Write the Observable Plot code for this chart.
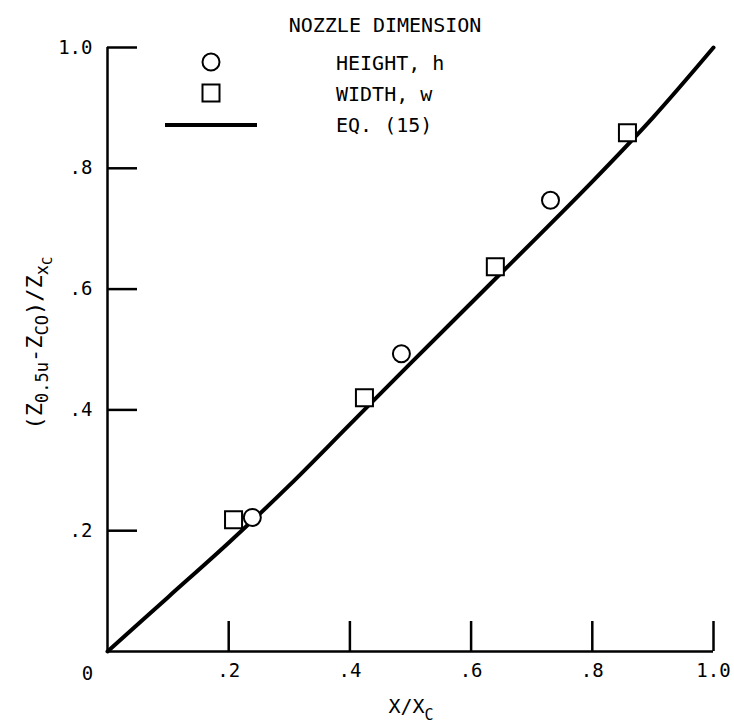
<!DOCTYPE html>
<html>
<head>
<meta charset="utf-8">
<script src="https://cdn.jsdelivr.net/npm/d3@7"></script>
<script src="https://cdn.jsdelivr.net/npm/@observablehq/plot@0.6"></script>
<style>
  html, body { margin: 0; padding: 0; background: white; }
  svg text { font-family: "DejaVu Sans Mono", monospace; }
</style>
</head>
<body>
<div id="chart"></div>
<script>
// Tick values
const xTicks = [0.2, 0.4, 0.6, 0.8, 1.0];
const yTicks = [0.2, 0.4, 0.6, 0.8, 1.0];
const originLabel = ["0"];

// Nozzle dimension: HEIGHT, h (circles)
const heightX = [0.239, 0.485, 0.731];
const heightY = [0.222, 0.493, 0.747];

// Nozzle dimension: WIDTH, w (squares)
const widthX = [0.208, 0.424, 0.640, 0.858];
const widthY = [0.218, 0.420, 0.637, 0.859];

// EQ. (15) curve
const eqX = [0, 0.1, 0.2, 0.3, 0.4, 0.5, 0.6, 0.7, 0.8, 0.9, 1.0];
const eqY = [0, 0.09, 0.18, 0.275, 0.376, 0.477, 0.577, 0.677, 0.778, 0.884, 1.0];

const heights = heightX.map((x, i) => ({x, y: heightY[i]}));
const widths = widthX.map((x, i) => ({x, y: widthY[i]}));
const eq = eqX.map((x, i) => ({x, y: eqY[i]}));

const fmt = d => d === 1 ? "1.0" : d3.format(".1f")(d).replace(/^0/, "");

const chart = Plot.plot({
  width: 734,
  height: 728,
  marginLeft: 107,
  marginRight: 21,
  marginTop: 47,
  marginBottom: 77,
  style: {fontFamily: "DejaVu Sans Mono", fontSize: "18px", color: "black", background: "white"},
  x: {domain: [0, 1]},
  y: {domain: [0, 1]},
  marks: [
    Plot.axisX({ticks: xTicks, tickSize: -30, tickFormat: () => "", strokeWidth: 2.5, label: null}),
    Plot.axisY({ticks: yTicks, tickSize: -30, tickFormat: () => "", strokeWidth: 2.5, label: null}),
    Plot.axisX({ticks: xTicks, tickSize: 0, tickPadding: 12, tickFormat: fmt, label: null, fontSize: 19}),
    Plot.axisY({ticks: yTicks, tickSize: 0, tickPadding: 15, tickFormat: fmt, label: null, fontSize: 19}),
    Plot.ruleX([0], {strokeWidth: 2.5}),
    Plot.ruleY([0], {strokeWidth: 2.5}),
    Plot.text(originLabel, {x: () => 0, y: () => 0, text: d => d, dx: -20, dy: 22, fontSize: 19}),
    Plot.line(eq, {x: "x", y: "y", strokeWidth: 4, curve: "catmull-rom"}),
    Plot.dot(heights, {x: "x", y: "y", symbol: "circle", r: 8.5, fill: "white", stroke: "black", strokeWidth: 2}),
    Plot.dot(widths, {x: "x", y: "y", symbol: "square", r: 9.6, fill: "white", stroke: "black", strokeWidth: 2})
  ]
});

document.getElementById("chart").appendChild(chart);

const svg = d3.select(chart);
const F = "DejaVu Sans Mono";

// Legend
svg.append("text").attr("x", 385).attr("y", 32).attr("text-anchor", "middle")
  .style("font-family", F).style("font-size", "20px").attr("fill", "black").text("NOZZLE DIMENSION");
svg.append("circle").attr("cx", 211).attr("cy", 62).attr("r", 8.5)
  .attr("fill", "white").attr("stroke", "black").attr("stroke-width", 2);
svg.append("rect").attr("x", 202.5).attr("y", 84.5).attr("width", 17).attr("height", 17)
  .attr("fill", "white").attr("stroke", "black").attr("stroke-width", 2);
svg.append("line").attr("x1", 165).attr("x2", 257).attr("y1", 125).attr("y2", 125)
  .attr("stroke", "black").attr("stroke-width", 4);
[["HEIGHT, h", 70], ["WIDTH, w", 101], ["EQ. (15)", 132]].forEach(([t, y]) => {
  svg.append("text").attr("x", 336).attr("y", y).attr("text-anchor", "start")
    .style("font-family", F).style("font-size", "20px").attr("fill", "black").text(t);
});

// X axis label
const xl = svg.append("text").attr("x", 411).attr("y", 713).attr("text-anchor", "middle")
  .style("font-family", F).style("font-size", "20px").attr("fill", "black");
xl.append("tspan").text("X/X");
xl.append("tspan").attr("dy", 7).style("font-size", "15px").text("C");

// Y axis label
const yl = svg.append("text").attr("transform", "translate(42,343) rotate(-90)")
  .attr("text-anchor", "middle")
  .style("font-family", F).style("font-size", "22px").attr("fill", "black");
yl.append("tspan").text("(Z");
yl.append("tspan").attr("dy", 6).style("font-size", "17px").text("0.5u");
yl.append("tspan").attr("dy", -6).text("-Z");
yl.append("tspan").attr("dy", 6).style("font-size", "17px").text("CO");
yl.append("tspan").attr("dy", -6).text(")/Z");
yl.append("tspan").attr("dy", 6).style("font-size", "17px").text("x");
yl.append("tspan").attr("dy", 4).style("font-size", "14px").text("C");
</script>
</body>
</html>
